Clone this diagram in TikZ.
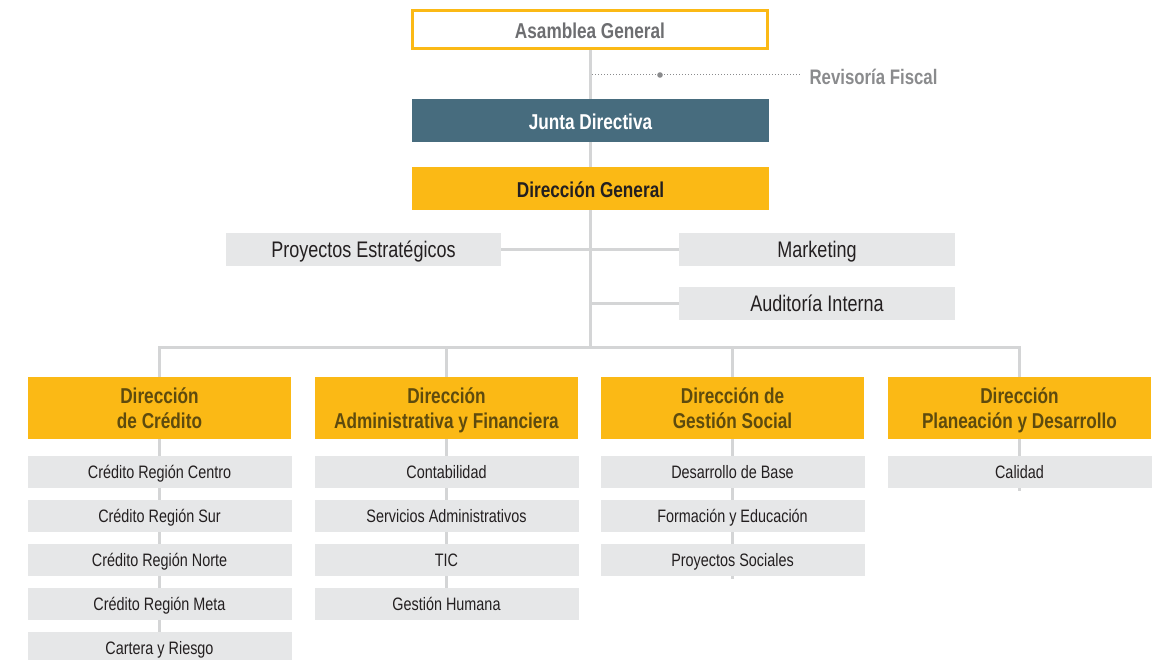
\documentclass[tikz,border=0pt]{standalone}
\usepackage{fontspec}
\setmainfont{Liberation Sans}[FakeStretch=0.8]
\usetikzlibrary{positioning,backgrounds}
\definecolor{amarillo}{HTML}{FBB915}
\definecolor{azul}{HTML}{476C7E}
\definecolor{grisbox}{HTML}{E6E7E8}
\definecolor{grislinea}{HTML}{D4D5D6}
\definecolor{gristexto}{HTML}{6D6E71}
\definecolor{grisclaro}{HTML}{8A8B8D}
\definecolor{cafe}{HTML}{5E4B0E}
\definecolor{tinta}{HTML}{231F20}
\tikzset{
	caja/.style={rectangle, inner sep=0pt, align=center},
	cabeza/.style={caja, minimum width=357, minimum height=43,
			text height=20pt, text depth=2pt,
			font=\fontsize{21.5}{25}\selectfont\bfseries},
	asamblea/.style={cabeza, draw=amarillo, line width=3pt, fill=white,
			minimum width=355, minimum height=38, text=gristexto},
	junta/.style={cabeza, fill=azul, text=white},
	dirgen/.style={cabeza, fill=amarillo, text=tinta},
	staff/.style={caja, fill=grisbox, minimum width=276, minimum height=33,
			text height=19pt, text depth=3pt,
			text=tinta, font=\fontsize{22.5}{26}\selectfont},
	direccion/.style={caja, fill=amarillo, minimum width=263, minimum height=62,
			text height=40pt, text depth=0pt,
			text=cafe, font=\fontsize{21.5}{25}\selectfont\bfseries},
	sub/.style={caja, fill=grisbox, minimum width=264, minimum height=32,
			text height=16pt, text depth=3pt,
			text=tinta, font=\fontsize{18}{21}\selectfont},
	linea/.style={draw=grislinea, line width=3pt},
}

\begin{document}
\begin{tikzpicture}[x=1pt, y=-1pt]
	\useasboundingbox (0,0) rectangle (1166,660);

	% Cabeza
	\node[asamblea] (asam) at (590,29.5) {Asamblea General};
	\node[junta] (junta) at (590.5,120.5) {Junta Directiva};
	\node[dirgen] (dg) at (590.5,188.5) {Dirección General};
	\node[anchor=west, text=grisclaro, font=\fontsize{21}{25}\selectfont\bfseries]
		(rf) at (806,77) {Revisoría Fiscal};

	% Staff
	\node[staff, minimum width=275] (proy) at (363.5,249.5) {Proyectos Estratégicos};
	\node[staff] (mkt) at (817,249.5) {Marketing};
	\node[staff] (aud) at (817,303.5) {Auditoría Interna};

	% Direcciones
	\node[direccion] (dcred) at (159.5,408) {Dirección\\de Crédito};
	\node[direccion] (dadm) at (446.5,408) {Dirección\\Administrativa y Financiera};
	\node[direccion] (dsoc) at (732.5,408) {Dirección de\\Gestión Social};
	\node[direccion] (dplan) at (1019.5,408) {Dirección\\Planeación y Desarrollo};

	% Areas
	\foreach \t [count=\k] in {Crédito Región Centro, Crédito Región Sur,
			Crédito Región Norte, Crédito Región Meta, Cartera y Riesgo}
		\node[sub] (cred\k) at (159.5,428+44*\k) {\t};
	\foreach \t [count=\k] in {Contabilidad, Servicios Administrativos,
			TIC, Gestión Humana}
		\node[sub] (adm\k) at (446.5,428+44*\k) {\t};
	\foreach \t [count=\k] in {Desarrollo de Base, Formación y Educación,
			Proyectos Sociales}
		\node[sub] (soc\k) at (732.5,428+44*\k) {\t};
	\node[sub] (plan1) at (1019.5,472) {Calidad};

	% Conectores
	\coordinate (bus) at (590,347);
	\coordinate (rfa) at (592,75);
	\coordinate (rfb) at (800,75);
	\begin{scope}[on background layer]
		\draw[linea] (asam.south) -- (bus);
		\draw[linea] (proy) -- (mkt);
		\draw[linea] (aud.west) -- (aud.west -| bus);
		\draw[linea] (dcred.north) |- (dplan.north |- bus) -- (dplan.north);
		\draw[linea] (dadm.north) -- (dadm.north |- bus);
		\draw[linea] (dsoc.north) -- (dsoc.north |- bus);
		\draw[linea] (dcred.south) -- (cred5.center);
		\draw[linea] (dadm.south) -- (adm4.center);
		\draw[linea] (dsoc.south) -- ([yshift=-3pt]soc3.south);
		\draw[linea] (dplan.south) -- ([yshift=-3pt]plan1.south);
	\end{scope}
	\draw[grisclaro, line width=1pt, dotted] (rfa) -- (rfb);
	\fill[grisclaro] (660,75) circle (2.8);
\end{tikzpicture}
\end{document}
